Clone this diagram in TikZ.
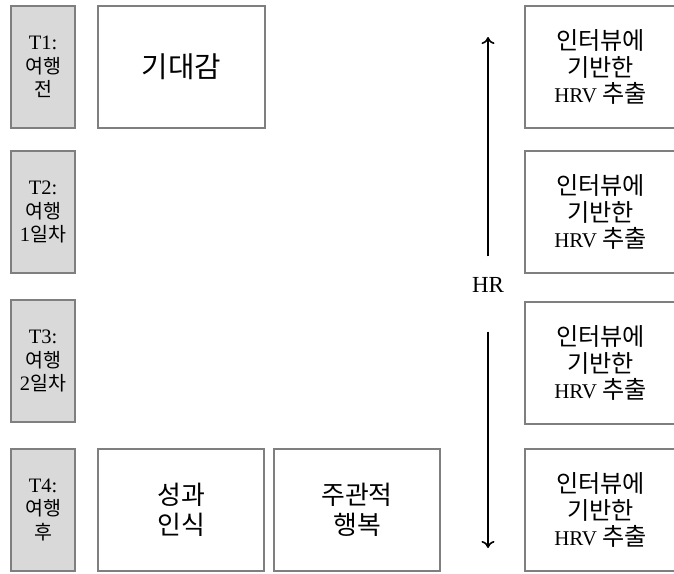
\documentclass[tikz,border=0pt]{standalone}
\usepackage{fontspec}
\setmainfont{Liberation Serif}
\newfontfamily\kr[Scale=1.15]{Noto Sans CJK KR}
\newfontfamily\krt[Scale=0.95]{Noto Sans CJK KR}
\usetikzlibrary{arrows.meta}
\definecolor{boxgray}{HTML}{D9D9D9}
\definecolor{edgegray}{HTML}{7F7F7F}
\tikzset{
  timebox/.style={draw=edgegray, fill=boxgray, line width=1.2pt, minimum width=64pt,
    minimum height=122pt, align=center, inner sep=0pt, font=\fontsize{20.5}{23.5}\selectfont},
  varbox/.style={draw=edgegray, line width=1.2pt, minimum height=122pt, align=center,
    inner sep=0pt, font=\fontsize{22.5}{30}\selectfont},
  hrvbox/.style={varbox, minimum width=151pt, font=\fontsize{21}{26.5}\selectfont},
  hrarrow/.style={-{To[length=7pt,width=13pt]}, line width=1.6pt},
}
\begin{document}
\begin{tikzpicture}[x=1pt,y=-1pt]
        \useasboundingbox (0,0) rectangle (674,573);

        %time points
        \node[timebox] (t1) at (43,67)  {T1:\\{\krt 여행}\\{\krt 전}};
        \node[timebox] (t2) at (43,212) {T2:\\{\krt 여행}\\1{\krt 일차}};
        \node[timebox] (t3) at (43,361) {T3:\\{\krt 여행}\\2{\krt 일차}};
        \node[timebox] (t4) at (43,510) {T4:\\{\krt 여행}\\{\krt 후}};

        %self reports
        \node[varbox, minimum width=167pt, font=\fontsize{25}{30}\selectfont] (expect) at (181.5,67) {\kr 기대감};
        \node[varbox, minimum width=166pt] (perf)   at (181,510)  {{\kr 성과}\\{\kr 인식}};
        \node[varbox, minimum width=166pt] (happy)  at (357,510)  {{\kr 주관적}\\{\kr 행복}};

        %hrv extraction
        \node[hrvbox] (hrv1) at (600.5,67)  {{\kr 인터뷰에}\\{\kr 기반한}\\HRV {\kr 추출}};
        \node[hrvbox] (hrv2) at (600.5,212) {{\kr 인터뷰에}\\{\kr 기반한}\\HRV {\kr 추출}};
        \node[hrvbox] (hrv3) at (600.5,363) {{\kr 인터뷰에}\\{\kr 기반한}\\HRV {\kr 추출}};
        \node[hrvbox] (hrv4) at (600.5,510) {{\kr 인터뷰에}\\{\kr 기반한}\\HRV {\kr 추출}};

        %heart rate
        \node[inner sep=0pt, font=\fontsize{23}{26}\selectfont] (hr) at (488,285) {HR};
        \coordinate (hrtop) at (488,37);
        \coordinate (hrbot) at (488,548);
        \draw[hrarrow, shorten <=21pt] (hr.north) -- (hrtop);
        \draw[hrarrow, shorten <=39pt] (hr.south) -- (hrbot);

\end{tikzpicture}
\end{document}
